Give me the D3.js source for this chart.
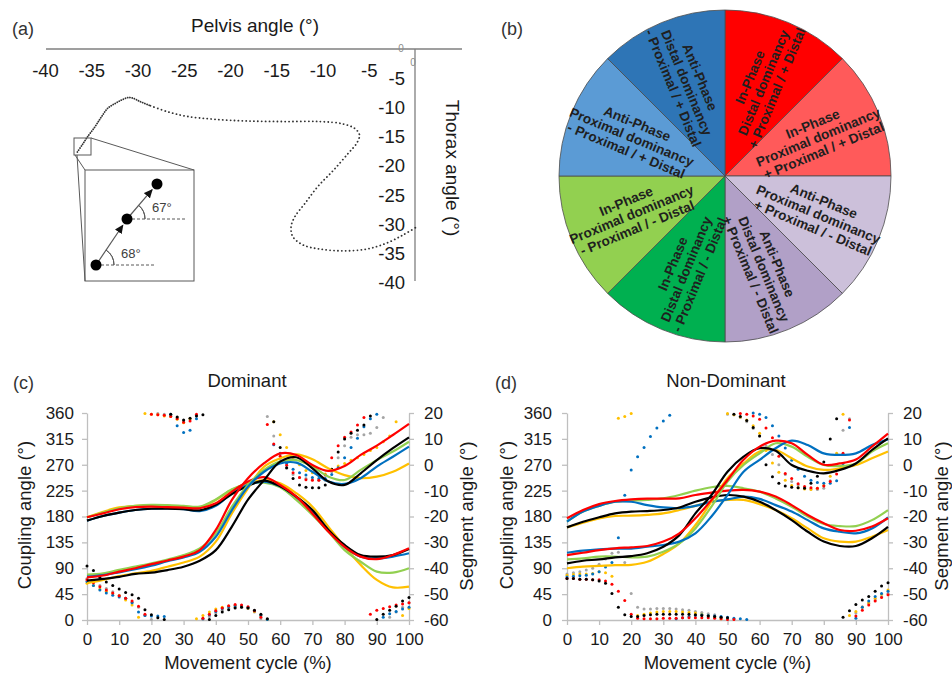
<!DOCTYPE html>
<html>
<head>
<meta charset="utf-8">
<script src="https://cdn.jsdelivr.net/npm/d3@7"></script>
<style>
  body { margin: 0; background: #fff; }
  svg { display: block; font-family: "Liberation Sans", Arial, sans-serif; }
</style>
</head>
<body>
<div id="chart"></div>
<script>
// ---- (a) pelvis / thorax trajectory
var pelvisTicks = [-40, -35, -30, -25, -20, -15, -10, -5];
var thoraxTicks = [-5, -10, -15, -20, -25, -30, -35, -40];
var trajPelvis = [-36.5,-35.9,-35.4,-34.6,-33.9,-33.2,-32.4,-31.7,-31,-30.5,-29.7,-28.6,-26.8,-24.7,-21.8,-18.2,-14.2,-10.3,-7.8,-6.5,-6,-6.3,-7.2,-8.8,-10.5,-11.9,-13,-13.4,-13.2,-12.1,-10.3,-7.8,-5.2,-3.1,-1.3,0.1];
var trajThorax = [-17.6,-16.2,-15,-13.3,-11.6,-10.1,-9.3,-8.7,-8.3,-8.4,-9,-9.7,-10.7,-11.5,-12,-12.3,-12.4,-12.4,-12.8,-13.6,-14.7,-16.1,-17.8,-20.7,-23.5,-26.4,-28.7,-30.4,-32.1,-33.5,-34.2,-34.5,-34.2,-33.2,-31.8,-30.5];
// inset sketch (pixel positions inside the zoom box)
var insetDots = [[96, 265], [127, 219], [157, 184]];
var insetAngles = ['68°', '67°'];

// ---- (b) coupling angle bins
var sliceShare = [1, 1, 1, 1, 1, 1, 1, 1];
var sliceColors = ['#ff0000', '#ff5a5a', '#ccc0da', '#b1a0c7', '#00b050', '#92d050', '#5b9bd5', '#2e75b6'];
var sliceLabels = [
  ['In-Phase', 'Distal dominancy', '+ Proximal / + Distal'],
  ['In-Phase', 'Proximal dominancy', '+ Proximal / + Distal'],
  ['Anti-Phase', 'Proximal dominancy', '+ Proximal / - Distal'],
  ['Anti-Phase', 'Distal dominancy', '+ Proximal / - Distal'],
  ['In-Phase', 'Distal dominancy', '- Proximal / - Distal'],
  ['In-Phase', 'Proximal dominancy', '- Proximal / - Distal'],
  ['Anti-Phase', 'Proximal dominancy', '- Proximal / + Distal'],
  ['Anti-Phase', 'Distal dominancy', '- Proximal / + Distal']
];

// ---- (c)/(d) shared axes
var cycleTicks = [0, 10, 20, 30, 40, 50, 60, 70, 80, 90, 100];
var couplingTicks = [0, 45, 90, 135, 180, 225, 270, 315, 360];
var segmentTicks = [-60, -50, -40, -30, -20, -10, 0, 10, 20];
var cycleLine = d3.range(0, 101, 5);   // segment angle samples
var cycleDot = d3.range(0, 101, 2);    // coupling angle samples

// (c) Dominant: segment angles (right axis)
var cRedA = [-20.3,-18.8,-17.2,-16.4,-16.2,-16.4,-16.6,-16.8,-14.9,-10.4,-6.5,-4.8,-7.8,-12.3,-18.8,-25.9,-31.7,-35.5,-36.5,-34.9,-32.3];
var cBlackA = [-21.6,-19.8,-18.5,-17.5,-17,-17,-17.2,-17.6,-15.5,-11.3,-8.2,-6.1,-8.3,-12.3,-17.5,-25.2,-31,-34.9,-35.5,-34.9,-32.6];
var cBlueA = [-21.6,-19.8,-18.5,-17.5,-17,-16.9,-17.2,-17.9,-15.9,-11,-7.8,-6.5,-8.3,-12.5,-18.1,-25.5,-31.7,-35.5,-36.2,-35.5,-34.2];
var cGreenA = [-20.3,-18.5,-16.8,-15.9,-15.5,-15.6,-15.9,-16.2,-13.4,-9.5,-7.4,-6.9,-8.7,-13.6,-19.4,-25.9,-33,-37.5,-41.3,-41.7,-40];
var cYellowA = [-20.3,-18.2,-16.5,-15.9,-15.7,-15.9,-16.2,-16.5,-13.6,-9.7,-7.2,-5.9,-7.2,-11,-16.2,-24,-31.7,-38.7,-44.5,-47.4,-47.1];
var cRedB = [-43.5,-42.8,-41.3,-40,-38.4,-37,-35.5,-33,-25.2,-13.6,-5.2,0.6,4.4,3.8,-0.1,-2.4,-0.5,3.8,7.4,11.5,15.8];
var cBlackB = [-44.8,-44.1,-43.3,-42.2,-41.7,-40.7,-39.4,-37.1,-33,-23.9,-13.5,-5.9,1.2,2.9,-1.4,-6.5,-7.8,-3.3,1.8,6.4,10.6];
var cBlueB = [-43.2,-42.6,-41.6,-40.4,-39,-37.3,-35.8,-33.6,-27.8,-17.5,-8.5,-2.7,0.5,0.8,-2.7,-6.5,-7.4,-5.2,-0.7,3.1,7];
var cGreenB = [-42.5,-42,-40.6,-39.4,-38.1,-36.6,-34.9,-32.3,-26.5,-16.2,-7.8,-2,1.2,1.8,-0.7,-4.6,-5.9,-2,1.8,5.1,8.9];
var cYellowB = [-45.8,-44.5,-43,-42,-41,-39.4,-37.8,-35.5,-29.7,-18.8,-9.1,-0.7,2.5,4,2.1,-1.4,-4,-5.2,-4.6,-2.7,0.5];
// (c) Dominant: coupling angles (left axis)
var cDotBlack = [94,86,74,66,60,54,48,44,38,18,9,4,1,358,353,348,351,355,357,1,8,14,18,21,22,21,17,10,2,345,300,265,246,235,231,230,230,235,262,292,315,325,330,339,355,1,10,17,24,33,39];
var cDotRed = [70,65,58,52,47,42,38,33,24,10,358,357,356,354,350,344,346,358,3,10,16,21,25,27,26,23,16,5,340,306,285,269,256,248,244,243,243,252,282,303,318,327,339,352,10,17,20,23,26,28,30];
var cDotBlue = [67,60,52,47,43,40,38,30,14,8,7,7,6,358,338,326,330,350,2,9,15,20,23,25,25,22,16,8,1,305,290,272,262,256,252,248,246,246,253,265,282,300,316,336,350,358,5,11,15,19,22];
var cDotYellow = [64,60,54,50,46,42,35,26,5,359,358,357,355,354,349,343,350,2,8,14,19,22,24,25,24,21,15,8,1,345,322,300,283,270,260,256,252,254,262,268,272,278,282,288,295,300,310,320,345,8,20];
var cDotGrey = [72,66,60,55,49,43,38,31,22,8,1,359,358,356,352,347,350,356,1,6,12,17,20,22,22,20,14,2,354,320,280,264,253,248,246,244,243,243,258,282,303,318,322,322,325,335,352,5,14,22,30];

// (d) Non-Dominant: segment angles (right axis)
var dRedA = [-20.7,-17.5,-15.2,-14,-13.4,-13.1,-13.1,-13,-11.7,-10.8,-10,-9.7,-10.4,-12.3,-15.6,-19.4,-22.6,-25.2,-25.5,-23.9,-20.7];
var dBlackA = [-24.2,-22,-20.3,-18.8,-18.1,-17.9,-17.5,-16.5,-14.3,-12.6,-11.7,-12.3,-14.3,-17.5,-21.4,-25.9,-29.7,-31.4,-31.4,-28.4,-24];
var dBlueA = [-22,-18.1,-15.9,-14.3,-14.3,-15.6,-16.5,-16.8,-15.9,-14.3,-13.4,-12.3,-13.2,-15.6,-18.1,-21.4,-24.6,-25.9,-26.5,-24.6,-20.3];
var dGreenA = [-22,-18.1,-15.9,-14.3,-13.9,-13.6,-13,-11.7,-10,-8.7,-8.2,-9.1,-10.4,-13,-16.2,-20,-22.9,-23.7,-23.7,-21.4,-17.5];
var dYellowA = [-24.2,-22.4,-20.7,-19.8,-19.7,-19.4,-18.8,-17.5,-15.9,-14.3,-13.6,-13.6,-15.2,-17.5,-20.7,-24.6,-28.4,-29.7,-29.7,-27.8,-25.2];
var dRedB = [-34.9,-34,-33,-32.3,-31.9,-31.4,-29.7,-26.5,-20.7,-13.6,-5.9,1.9,7,9.3,8.3,3.8,0,0.5,2,7,12];
var dBlackB = [-38.1,-37.1,-36.6,-35.8,-35.3,-34.2,-31.7,-27.2,-18.8,-11.7,-2.7,3.1,6.4,5.4,-0.1,-2.3,-3.3,-2,0.5,5.7,10.2];
var dBlueB = [-34,-33.2,-32.7,-32.4,-32.4,-31.7,-31,-29.7,-26.5,-20,-11.7,-2.7,1.9,6.4,9.3,7.6,4.4,3.8,4.4,7.6,9.8];
var dGreenB = [-36.6,-36.2,-35.5,-35.5,-35.8,-35.5,-33.6,-30.4,-24.6,-16.2,-6.5,-0.1,4.4,8.3,7,3.1,-0.1,-0.5,0.5,5.1,8.3];
var dYellowB = [-40,-39.4,-39.1,-38.8,-38.7,-37.5,-34.5,-30.4,-23.3,-14.3,-5.2,0.5,5.1,5.7,2.5,-0.7,-2,-1.4,-0.1,2.5,5.1];
// (d) Non-Dominant: coupling angles (left axis)
var dDotBlack = [72,72,71,71,70,68,64,46,22,9,6,6,8,9,10,10,10,10,10,10,9,8,7,6,5,4,358,354,347,335,320,270,249,238,233,231,230,229,238,250,275,315,350,5,16,27,35,41,50,59,65];
var dDotRed = [72,72,71,71,70,70,68,62,50,34,10,3,2,2,2,3,3,3,4,4,4,4,4,3,2,1,1,359,358,355,349,334,317,285,255,246,237,232,230,229,233,241,254,290,348,7,17,26,33,39,44];
var dDotBlue = [75,76,77,78,80,84,92,100,143,217,261,284,300,319,334,346,356,2,4,6,8,9,8,7,6,5,3,2,1,360,358,352,338,320,299,278,262,250,243,239,238,238,242,272,335,3,22,33,41,46,50];
var dDotYellow = [78,79,80,80,81,84,82,76,351,354,359,8,10,12,14,15,15,15,14,13,12,10,8,5,2,359,357,353,348,338,325,295,273,257,243,234,230,228,227,229,234,250,290,358,8,15,22,30,38,45,52];
var dDotGrey = [80,82,84,87,90,97,106,116,118,100,46,22,19,19,20,20,20,19,18,17,15,13,11,9,5,358,357,352,345,333,320,303,288,270,253,241,235,231,228,227,229,242,270,330,350,12,23,29,35,41,46];

var FONT = '"Liberation Sans", Arial, sans-serif';
var plainNum = function(d) { return String(d); };   // keep ASCII hyphen minus
var svg = d3.select('#chart').append('svg').attr('width', 952).attr('height', 673);

function styleAxis(g, size) {
  g.attr('font-family', FONT).attr('font-size', size);
  g.selectAll('text').attr('fill', '#1a1a1a');
}

// ================= panel (a)
var xA = d3.scaleLinear().domain([-40, 0]).range([45, 415]);
var yA = d3.scaleLinear().domain([0, -40]).range([49, 283]);
var gA = svg.append('g');

gA.append('text').attr('x', 12).attr('y', 35).attr('font-size', 18).attr('fill', '#333').text('(a)');
gA.append('text').attr('x', 255).attr('y', 32).attr('text-anchor', 'middle').attr('font-size', 19)
  .attr('fill', '#1a1a1a').text('Pelvis angle (°)');
gA.append('text').attr('transform', 'translate(452,168) rotate(90)').attr('text-anchor', 'middle')
  .attr('dominant-baseline', 'central').attr('font-size', 19).attr('fill', '#1a1a1a').text('Thorax angle (°)');

gA.append('line').attr('x1', 46).attr('x2', 462).attr('y1', yA(0)).attr('y2', yA(0))
  .attr('stroke', '#7f7f7f').attr('stroke-width', 1.3);
gA.append('line').attr('x1', xA(0)).attr('x2', xA(0)).attr('y1', yA(0)).attr('y2', 281)
  .attr('stroke', '#7f7f7f').attr('stroke-width', 1.3);

gA.append('g').attr('transform', 'translate(0,' + yA(0) + ')')
  .call(d3.axisBottom(xA).tickValues(pelvisTicks).tickFormat(plainNum).tickSize(0).tickPadding(14.5))
  .call(function(g) { g.select('.domain').remove(); styleAxis(g, 18.5); });
gA.append('g').attr('transform', 'translate(' + xA(0) + ',0)')
  .call(d3.axisLeft(yA).tickValues(thoraxTicks).tickFormat(plainNum).tickSize(0).tickPadding(10))
  .call(function(g) { g.select('.domain').remove(); styleAxis(g, 18.5); });

// small zero marks
gA.append('text').attr('x', 401).attr('y', 52).attr('text-anchor', 'middle').attr('font-size', 10)
  .attr('fill', '#8c8c8c').text('0');
gA.append('text').attr('x', 413).attr('y', 66).attr('text-anchor', 'middle').attr('font-size', 10)
  .attr('fill', '#8c8c8c').text('0');

var trajLine = d3.line().x(function(d) { return xA(d[0]); }).y(function(d) { return yA(d[1]); })
  .curve(d3.curveCatmullRom);
var traj = trajPelvis.map(function(p, i) { return [p, trajThorax[i]]; });
gA.append('path').attr('d', trajLine(traj.slice(0, 12))).attr('fill', 'none').attr('stroke', '#333')
  .attr('stroke-width', 1.8).attr('stroke-linecap', 'round').attr('stroke-dasharray', '0.1 2.2');
gA.append('path').attr('d', trajLine(traj.slice(11))).attr('fill', 'none').attr('stroke', '#333')
  .attr('stroke-width', 1.8).attr('stroke-linecap', 'round').attr('stroke-dasharray', '0.1 3.8');

// zoom inset
var lens = gA.append('g').attr('stroke', '#595959').attr('fill', 'none').attr('stroke-width', 1);
lens.append('rect').attr('x', 74).attr('y', 138).attr('width', 17).attr('height', 17);
lens.append('rect').attr('x', 85).attr('y', 170).attr('width', 109).attr('height', 111);
lens.append('line').attr('x1', 91).attr('y1', 138).attr('x2', 194).attr('y2', 170);
lens.append('line').attr('x1', 75).attr('y1', 155).attr('x2', 85).attr('y2', 170);
lens.append('line').attr('x1', 77).attr('y1', 155).attr('x2', 85).attr('y2', 281);

svg.append('defs').append('marker').attr('id', 'arrowHead')
  .attr('markerUnits', 'userSpaceOnUse').attr('markerWidth', 9).attr('markerHeight', 8)
  .attr('refX', 8).attr('refY', 4).attr('orient', 'auto')
  .append('path').attr('d', 'M0,0 L9,4 L0,8 Z').attr('fill', '#111');

insetDots.forEach(function(p, i) {
  if (i < insetDots.length - 1) {
    var q = insetDots[i + 1];
    var dx = q[0] - p[0], dy = q[1] - p[1], len = Math.sqrt(dx * dx + dy * dy);
    var ux = dx / len, uy = dy / len;
    gA.append('line').attr('x1', p[0]).attr('y1', p[1])
      .attr('x2', q[0] - ux * 7.5).attr('y2', q[1] - uy * 7.5)
      .attr('stroke', '#595959').attr('stroke-width', 1.2).attr('marker-end', 'url(#arrowHead)');
    gA.append('line').attr('x1', p[0]).attr('y1', p[1]).attr('x2', p[0] + 58).attr('y2', p[1])
      .attr('stroke', '#595959').attr('stroke-width', 1).attr('stroke-dasharray', '3 2');
    var phi = Math.atan2(-dy, dx);
    var arcPath = d3.arc().innerRadius(18).outerRadius(18)
      .startAngle(Math.PI / 2).endAngle(Math.PI / 2 - phi);
    gA.append('path').attr('transform', 'translate(' + p[0] + ',' + p[1] + ')').attr('d', arcPath())
      .attr('fill', 'none').attr('stroke', '#595959').attr('stroke-width', 1);
    gA.append('text').attr('x', p[0] + 25).attr('y', p[1] - 7).attr('font-size', 13)
      .attr('fill', '#404040').text(insetAngles[i]);
  }
});
gA.selectAll('circle.inset').data(insetDots).enter().append('circle').attr('class', 'inset')
  .attr('cx', function(d) { return d[0]; }).attr('cy', function(d) { return d[1]; })
  .attr('r', 5.5).attr('fill', '#000');

// ================= panel (b)
svg.append('text').attr('x', 501).attr('y', 35).attr('font-size', 18).attr('fill', '#333').text('(b)');
var R = 166;
var gB = svg.append('g').attr('transform', 'translate(725,176)');
var pie = d3.pie().sort(null).value(function(d) { return d; });
var arc = d3.arc().innerRadius(0).outerRadius(R);
var slices = pie(sliceShare);
gB.selectAll('path').data(slices).enter().append('path')
  .attr('d', arc).attr('fill', function(d, i) { return sliceColors[i]; })
  .attr('stroke', '#4d4d4d').attr('stroke-width', 0.8);
slices.forEach(function(d, i) {
  var mid = (d.startAngle + d.endAngle) / 2;
  var deg = mid * 180 / Math.PI;
  var rot = deg < 180 ? deg - 90 : deg - 270;
  var px = 101 * Math.sin(mid), py = -101 * Math.cos(mid);
  var t = gB.append('g').attr('transform', 'translate(' + px + ',' + py + ') rotate(' + rot + ')');
  sliceLabels[i].forEach(function(s, k) {
    t.append('text').attr('x', 0).attr('y', (k - 1) * 14.5).attr('text-anchor', 'middle')
      .attr('dominant-baseline', 'central').attr('font-size', 13.6).attr('font-weight', 'bold')
      .attr('fill', '#1f1f1f').text(s);
  });
});

// ================= panels (c) and (d)
function drawCoupling(cfg) {
  var g = svg.append('g');
  var x = d3.scaleLinear().domain([0, 100]).range([cfg.x0, cfg.x1]);
  var yL = d3.scaleLinear().domain([0, 360]).range([620, 413]);
  var yR = d3.scaleLinear().domain([-60, 20]).range([620, 413]);

  g.append('text').attr('x', cfg.tagX).attr('y', 389).attr('font-size', 18).attr('fill', '#333').text(cfg.tag);
  g.append('text').attr('x', cfg.titleX).attr('y', 387).attr('text-anchor', 'middle').attr('font-size', 18.5)
    .attr('fill', '#1a1a1a').text(cfg.title);

  function axisStyle(sel) {
    sel.selectAll('.domain').attr('stroke', '#bfbfbf').attr('stroke-width', 1.3);
    sel.selectAll('.tick line').attr('stroke', '#bfbfbf').attr('stroke-width', 1.3);
    styleAxis(sel, 17);
  }
  g.append('g').attr('transform', 'translate(0,620)')
    .call(d3.axisBottom(x).tickValues(cycleTicks).tickFormat(plainNum).tickSize(5).tickSizeOuter(0).tickPadding(8))
    .call(axisStyle);
  g.append('g').attr('transform', 'translate(' + cfg.x0 + ',0)')
    .call(d3.axisLeft(yL).tickValues(couplingTicks).tickFormat(plainNum).tickSize(5).tickSizeOuter(0).tickPadding(cfg.padL))
    .call(axisStyle);
  g.append('g').attr('transform', 'translate(' + cfg.x1 + ',0)')
    .call(d3.axisRight(yR).tickValues(segmentTicks).tickFormat(plainNum).tickSize(5).tickSizeOuter(0).tickPadding(10))
    .call(axisStyle);

  cfg.dots.forEach(function(s) {
    g.append('g').selectAll('circle').data(s.values).enter().append('circle')
      .attr('cx', function(d, i) { return x(cycleDot[i]); })
      .attr('cy', function(d) { return yL(d); })
      .attr('r', 1.5).attr('fill', s.color);
  });

  var line = d3.line().x(function(d, i) { return x(cycleLine[i]); }).y(function(d) { return yR(d); })
    .curve(d3.curveCatmullRom);
  cfg.lines.forEach(function(s) {
    g.append('path').attr('d', line(s.values)).attr('fill', 'none').attr('stroke', s.color)
      .attr('stroke-width', 2.2).attr('stroke-linejoin', 'round');
  });

  g.append('text').attr('x', (cfg.x0 + cfg.x1) / 2).attr('y', 669).attr('text-anchor', 'middle')
    .attr('font-size', 18.5).attr('fill', '#1a1a1a').text('Movement cycle (%)');
  g.append('text').attr('transform', 'translate(' + cfg.leftTitleX + ',515) rotate(-90)')
    .attr('text-anchor', 'middle').attr('dominant-baseline', 'central').attr('font-size', 18.5)
    .attr('fill', '#1a1a1a').text('Coupling angle (°)');
  g.append('text').attr('transform', 'translate(' + cfg.rightTitleX + ',516) rotate(-90)')
    .attr('text-anchor', 'middle').attr('dominant-baseline', 'central').attr('font-size', 18.5)
    .attr('fill', '#1a1a1a').text('Segment angle (°)');
}

var RED = '#ff0000', BLACK = '#000000', BLUE = '#0070c0', GREEN = '#92d050', YELLOW = '#ffc000', GREY = '#a5a5a5';

drawCoupling({
  x0: 87, x1: 409, padL: 8, tag: '(c)', tagX: 13, title: 'Dominant', titleX: 247,
  leftTitleX: 24, rightTitleX: 466,
  dots: [
    { color: GREY, values: cDotGrey }, { color: YELLOW, values: cDotYellow },
    { color: BLUE, values: cDotBlue }, { color: RED, values: cDotRed }, { color: BLACK, values: cDotBlack }
  ],
  lines: [
    { color: YELLOW, values: cYellowA }, { color: GREEN, values: cGreenA }, { color: BLUE, values: cBlueA },
    { color: BLACK, values: cBlackA }, { color: RED, values: cRedA },
    { color: YELLOW, values: cYellowB }, { color: GREEN, values: cGreenB }, { color: BLUE, values: cBlueB },
    { color: BLACK, values: cBlackB }, { color: RED, values: cRedB }
  ]
});

drawCoupling({
  x0: 567, x1: 888, padL: 10, tag: '(d)', tagX: 495, title: 'Non-Dominant', titleX: 726,
  leftTitleX: 506, rightTitleX: 941.5,
  dots: [
    { color: GREY, values: dDotGrey }, { color: YELLOW, values: dDotYellow },
    { color: BLUE, values: dDotBlue }, { color: RED, values: dDotRed }, { color: BLACK, values: dDotBlack }
  ],
  lines: [
    { color: YELLOW, values: dYellowA }, { color: GREEN, values: dGreenA }, { color: BLUE, values: dBlueA },
    { color: BLACK, values: dBlackA }, { color: RED, values: dRedA },
    { color: YELLOW, values: dYellowB }, { color: GREEN, values: dGreenB }, { color: BLUE, values: dBlueB },
    { color: BLACK, values: dBlackB }, { color: RED, values: dRedB }
  ]
});
</script>
</body>
</html>
